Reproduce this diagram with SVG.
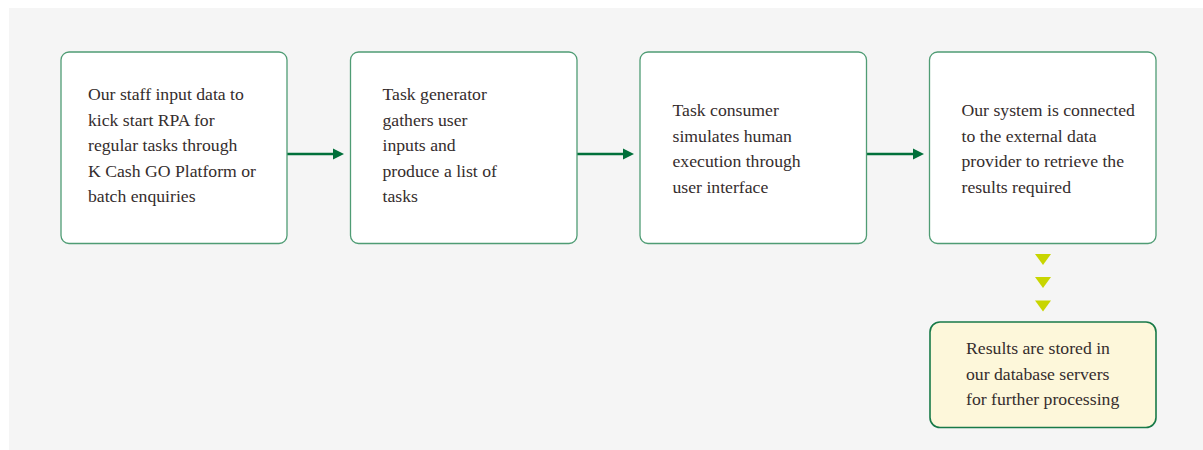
<svg xmlns="http://www.w3.org/2000/svg" width="1203" height="450" viewBox="0 0 1203 450">
<defs>
<style>
.bg{fill:#ffffff}
.panel{fill:#f5f5f5}
.box{fill:#ffffff;stroke:#4f9c74;stroke-width:1.3}
.result{fill:#fdf7da;stroke:#187a48;stroke-width:1.6}
.t{font-family:"Liberation Serif","Times New Roman",serif;font-size:17.7px;fill:#352d2d}
.conn{stroke:#00703a;stroke-width:2.6;fill:none}
.head{fill:#00703a}
.tri{fill:#c8d500}
</style>
</defs>
<rect class="bg" x="0" y="0" width="1203" height="450"/>
<rect class="panel" x="9" y="8" width="1194" height="442"/>
<g id="connectors">
<line class="conn" x1="287" y1="154" x2="334" y2="154"/>
<polygon class="head" points="333,148.5 344,154 333,159.5"/>
<line class="conn" x1="577" y1="154" x2="624" y2="154"/>
<polygon class="head" points="623,148.5 634,154 623,159.5"/>
<line class="conn" x1="866" y1="154" x2="914" y2="154"/>
<polygon class="head" points="913,148.5 924,154 913,159.5"/>
<polygon class="tri" points="1035,254 1051,254 1043,265"/>
<polygon class="tri" points="1035,277 1051,277 1043,288"/>
<polygon class="tri" points="1035,300.5 1051,300.5 1043,311.5"/>
</g>
<g id="node1">
<rect class="box" x="61" y="52" width="226" height="191.5" rx="8"/>
<text class="t" x="88" y="100">Our staff input data to</text>
<text class="t" x="88" y="125.5">kick start RPA for</text>
<text class="t" x="88" y="151">regular tasks through</text>
<text class="t" x="88" y="176.5">K Cash GO Platform or</text>
<text class="t" x="88" y="202">batch enquiries</text>
</g>
<g id="node2">
<rect class="box" x="350.5" y="52" width="226.5" height="191.5" rx="8"/>
<text class="t" x="382.5" y="100">Task generator</text>
<text class="t" x="382.5" y="125.5">gathers user</text>
<text class="t" x="382.5" y="151">inputs and</text>
<text class="t" x="382.5" y="176.5">produce a list of</text>
<text class="t" x="382.5" y="202">tasks</text>
</g>
<g id="node3">
<rect class="box" x="640" y="52" width="226.5" height="191.5" rx="8"/>
<text class="t" x="672.5" y="116">Task consumer</text>
<text class="t" x="672.5" y="141.5">simulates human</text>
<text class="t" x="672.5" y="167">execution through</text>
<text class="t" x="672.5" y="192.5">user interface</text>
</g>
<g id="node4">
<rect class="box" x="929.5" y="52" width="226.5" height="191.5" rx="8"/>
<text class="t" x="961.5" y="116">Our system is connected</text>
<text class="t" x="961.5" y="141.5">to the external data</text>
<text class="t" x="961.5" y="167">provider to retrieve the</text>
<text class="t" x="961.5" y="192.5">results required</text>
</g>
<g id="node5">
<rect class="result" x="930" y="322" width="226" height="105.5" rx="10"/>
<text class="t" x="966" y="354">Results are stored in</text>
<text class="t" x="966" y="379.5">our database servers</text>
<text class="t" x="966" y="405">for further processing</text>
</g>
</svg>
